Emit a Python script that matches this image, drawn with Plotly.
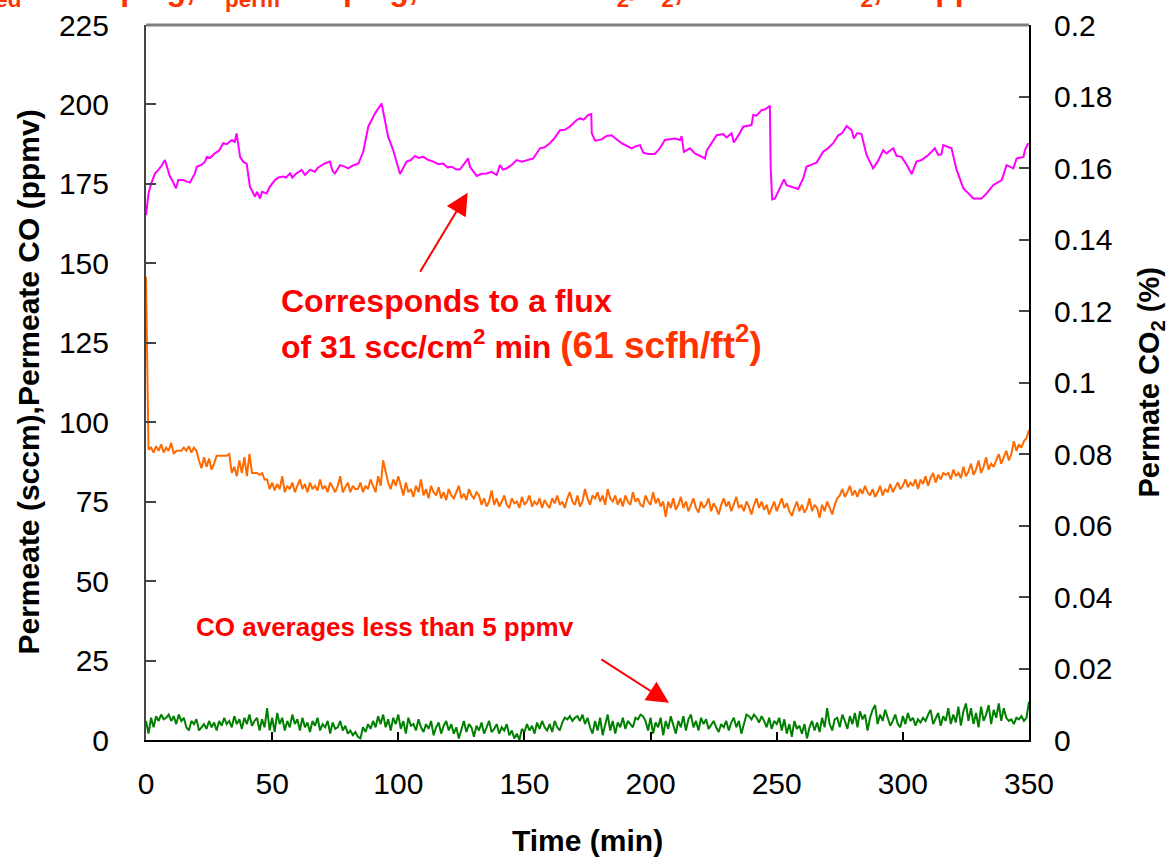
import plotly.graph_objects as go

# ---------------- data ----------------
# Permeate flow (sccm), magenta, left axis
flow_t = [0, 1, 2, 3.6, 4.9, 6, 7.5, 8.5, 9.5, 10.5,
          11.9, 12.8, 14.8, 16, 17.4, 19.4, 20.1, 22, 23.4, 24.1,
          25.5, 27.3, 29, 30.6, 32, 34, 35.2, 35.9, 36.6, 37.3,
          38.5, 39.9, 41.2, 43.2, 44, 45.2, 46, 47.8, 49, 51.1,
          52.5, 54.4, 55.5, 57.1, 58, 59.7, 61.7, 63, 65, 67,
          68, 69.6, 71, 72.9, 74, 74.9, 76.9, 78.5, 80.2, 82,
          84.2, 86.1, 88.1, 90.8, 93.4, 96, 98, 100.7, 103.3, 105,
          106.6, 108, 109.9, 112, 113.9, 116, 117.8, 119.5, 121.2, 123,
          124.5, 127.7, 128.4, 131.1, 133, 135, 137, 139, 140.3, 141.5,
          143, 145, 146.9, 149, 150.9, 152, 153.5, 156.2, 158, 160.1,
          162, 164.1, 166, 168, 170.7, 172, 173.5, 175.3, 176.5, 176.7,
          178, 180.6, 182.6, 184.5, 186.5, 188.5, 190.5, 192.5, 194, 195.8,
          197.1, 199, 201.7, 203.5, 205.7, 207.5, 209.7, 211.7, 212.3, 213.2,
          215.6, 217.6, 219.5, 221.6, 222.2, 224, 226.2, 228.8, 230.1, 232.1,
          233, 235, 236.7, 240, 240.7, 242, 244, 245.5, 247.3, 247.6,
          248.2, 249.3, 251.3, 252.9, 253.9, 256, 258.5, 260.5, 261.8, 263.5,
          265.8, 268.4, 270, 272.4, 274.4, 276, 277.7, 279.7, 280.6, 281.9,
          283.6, 285.6, 288.2, 290, 292.2, 293.5, 296.2, 297.5, 299.5, 301.5,
          303.5, 305.4, 307.4, 310.1, 312.7, 314, 315.3, 316, 319.3, 321.3,
          324, 326, 327.9, 331.2, 333.2, 335.8, 339.2, 341.1, 343.8, 345.1,
          347.8, 348.4, 349.7]
flow_sccm = [165.2, 172, 175, 178.3, 179.4, 180.5, 182.5, 180, 177.3, 176,
             173.6, 176.2, 176.2, 175.8, 175.4, 178.3, 180.4, 181, 182, 183.5,
             183.2, 184.6, 185.5, 187.8, 187.5, 188.8, 188.2, 190.9, 186.7, 183.5,
             182, 181.4, 174.1, 171, 172.5, 170.4, 172.5, 172, 174, 176.2,
             177, 177.3, 177, 178.3, 177, 178.3, 179.4, 177.8, 179.4, 178.8,
             180, 180.9, 181.5, 182, 179, 178.3, 180.9, 180.5, 179.9, 180.8,
             181.4, 185.1, 193, 197.2, 200.3, 189.8, 185.6, 178.1, 182, 182.5,
             183.8, 183.2, 183.5, 182.5, 182, 181.2, 181.4, 180.2, 180.4, 179.5,
             179.6, 183, 180.4, 177.5, 178.2, 178.3, 178.8, 177.8, 180.9, 179.5,
             179.9, 181, 182.5, 182, 182.5, 182.8, 183, 186.2, 186.5, 187.8,
             189.5, 191.9, 192, 193, 195.1, 195.6, 195.2, 196.7, 197, 190.9,
             188.6, 189, 190.1, 190.3, 189, 187.8, 187, 186.2, 186.8, 187.2,
             184.8, 184.4, 184.4, 186, 188.8, 189, 189.3, 188.8, 190, 185.1,
             186.2, 184.6, 183.8, 183, 185.4, 187.5, 190.3, 190.7, 189.6, 190.9,
             188, 190.5, 193, 193.5, 196.7, 196.5, 198.2, 198.5, 199.6, 180.4,
             170.1, 170.4, 173.6, 176.4, 174.6, 174, 173.4, 176.7, 180.4, 181,
             181.7, 185.1, 186, 187.8, 190.3, 191, 193.2, 191.9, 189.3, 191,
             190.7, 184.1, 179.9, 182, 185.6, 184.6, 186.2, 183.8, 183.5, 181,
             178.1, 182, 182.5, 184.1, 186.2, 184.1, 184.3, 187.2, 186.2, 179.4,
             173.6, 172, 170.4, 170.4, 172, 174.6, 176.2, 180.9, 179.9, 183,
             183.5, 185.6, 187.8]

# 1-minute sampling grid for the CO2 and CO analyser traces
time_min = list(range(0, 351))

# Permeate CO2 (%), orange, right axis
co2_pct = [0.1296,
           0.0812, 0.0818, 0.0804, 0.0822, 0.0809, 0.0827, 0.0804, 0.0818, 0.0809, 0.0831,
           0.0800, 0.0809, 0.0809, 0.0809, 0.0818, 0.0809, 0.0822, 0.0804, 0.0818, 0.0809,
           0.0782, 0.0760, 0.0791, 0.0764, 0.0787, 0.0756, 0.0773,
           0.0795, 0.0795, 0.0795, 0.0795, 0.0795,
           0.0800, 0.0747, 0.0764, 0.0738, 0.0782, 0.0747, 0.0791, 0.0738, 0.0800, 0.0747,
           0.0747, 0.0747, 0.0742, 0.0747, 0.0729,
           0.0729, 0.0702, 0.0720, 0.0698, 0.0716, 0.0702, 0.0738, 0.0693, 0.0711, 0.0702,
           0.0720, 0.0693, 0.0711, 0.0729, 0.0702, 0.0716, 0.0693, 0.0720, 0.0702, 0.0711,
           0.0698, 0.0729, 0.0702, 0.0711, 0.0693, 0.0720, 0.0707, 0.0693, 0.0711, 0.0738,
           0.0693, 0.0707, 0.0720, 0.0693, 0.0711, 0.0702,
           0.0702, 0.0720, 0.0693, 0.0711, 0.0702, 0.0729, 0.0711, 0.0693, 0.0738, 0.0711,
           0.0782, 0.0747, 0.0720, 0.0702, 0.0729, 0.0711, 0.0738,
           0.0711, 0.0684, 0.0720, 0.0693, 0.0702, 0.0680, 0.0711, 0.0693, 0.0729, 0.0684,
           0.0702, 0.0676, 0.0711, 0.0693, 0.0684, 0.0707, 0.0676, 0.0693, 0.0671, 0.0702,
           0.0684, 0.0676, 0.0693, 0.0711, 0.0676, 0.0689, 0.0671, 0.0702, 0.0684, 0.0676,
           0.0693,
           0.0684, 0.0658, 0.0676, 0.0653, 0.0667, 0.0698, 0.0658, 0.0676, 0.0653, 0.0667,
           0.0684, 0.0658, 0.0649, 0.0676, 0.0662, 0.0667, 0.0649, 0.0680, 0.0658, 0.0667,
           0.0684, 0.0653, 0.0667, 0.0658, 0.0676, 0.0649, 0.0671, 0.0658, 0.0649, 0.0676,
           0.0662, 0.0684, 0.0658, 0.0667, 0.0649, 0.0676, 0.0693, 0.0667, 0.0658, 0.0684,
           0.0653, 0.0667, 0.0702, 0.0676, 0.0658, 0.0684,
           0.0676, 0.0693, 0.0667, 0.0684, 0.0658, 0.0702, 0.0676, 0.0667, 0.0684, 0.0658,
           0.0676, 0.0653, 0.0684, 0.0667, 0.0658, 0.0693, 0.0667, 0.0676, 0.0658, 0.0653,
           0.0684, 0.0667, 0.0658, 0.0693, 0.0662, 0.0676, 0.0653, 0.0667,
           0.0624,
           0.0667, 0.0649, 0.0676, 0.0644, 0.0658, 0.0680, 0.0649, 0.0667, 0.0640, 0.0658,
           0.0676, 0.0649, 0.0636, 0.0667, 0.0649, 0.0658, 0.0676, 0.0640, 0.0662, 0.0649,
           0.0631, 0.0658, 0.0676, 0.0653, 0.0667, 0.0640, 0.0658, 0.0680, 0.0649, 0.0658,
           0.0640, 0.0667, 0.0653, 0.0631, 0.0658, 0.0676, 0.0649, 0.0667, 0.0644, 0.0658,
           0.0631, 0.0649, 0.0667, 0.0640, 0.0658, 0.0676, 0.0649, 0.0662, 0.0640, 0.0627,
           0.0649, 0.0667, 0.0640, 0.0658, 0.0636, 0.0649, 0.0676, 0.0640, 0.0658, 0.0649,
           0.0622, 0.0658, 0.0640, 0.0667, 0.0649, 0.0631, 0.0658, 0.0676,
           0.0684, 0.0702, 0.0680, 0.0693, 0.0711, 0.0684, 0.0698, 0.0680, 0.0702, 0.0689,
           0.0711, 0.0693, 0.0684, 0.0702, 0.0680, 0.0693, 0.0711, 0.0684, 0.0702, 0.0693,
           0.0716, 0.0693, 0.0707, 0.0720, 0.0702, 0.0711, 0.0729, 0.0707, 0.0720, 0.0711,
           0.0729,
           0.0702, 0.0729, 0.0716, 0.0738, 0.0711, 0.0733, 0.0747, 0.0720, 0.0742, 0.0729,
           0.0747, 0.0742, 0.0747, 0.0729, 0.0756, 0.0738, 0.0747, 0.0733, 0.0764, 0.0738,
           0.0751, 0.0773, 0.0742, 0.0756, 0.0782, 0.0747, 0.0764, 0.0791, 0.0756, 0.0773,
           0.0764, 0.0782, 0.0800, 0.0773, 0.0791, 0.0809, 0.0782, 0.0800, 0.0836, 0.0809,
           0.0827, 0.0818, 0.0836, 0.0844, 0.0867]

# Permeate CO (ppmv), green, left axis
co_ppmv = [6, 2, 7, 4, 7.5, 6, 8, 6.5, 7, 8,
           6, 7.5, 5, 8, 6, 7, 4, 3, 6, 5,
           6.5, 3, 4, 5, 3.5, 6, 4, 5.5, 3, 6,
           4.5, 7, 5, 6, 4, 7.5, 5, 6.5, 3.5, 7,
           5, 8, 4.5, 6, 7, 3, 6.5, 4, 10, 3,
           7, 2.5, 8.5, 5, 7, 3, 6, 4, 8, 5,
           6.5, 3, 7, 4, 5.5, 2.5, 6, 4.5, 7, 3,
           5, 4, 6, 2, 5.5, 3.5, 4, 6, 3, 4.5,
           2, 3, 1.5, 2.5, 1, 0.5, 4, 2.5, 5, 3.5,
           6, 4, 7.5, 5, 8, 4, 6.5, 3, 7, 5,
           8, 3.5, 6, 2, 7, 4.5, 5, 3, 6.5, 4,
           2.5, 5, 3.5, 6, 1.5, 4, 5.5, 2, 4.5, 6,
           3, 5, 2, 4, 0.5, 3.5, 6, 2.5, 5, 4,
           1, 4.5, 3, 5.5, 2, 4, 6, 2.5, 3.5, 5,
           2, 4, 3, 5, 1.5, 3, 0.5, 2, 0, 3.5,
           2.5, 5, 3, 4.5, 2, 5.5, 3.5, 6, 4, 3,
           5, 2.5, 6, 4, 3, 5.5, 7, 6.5, 7.5, 6,
           7, 7.5, 6, 8, 5, 7, 4, 2, 6, 3,
           7, 1.5, 5, 8, 3, 6, 2, 5.5, 4, 7,
           3.5, 6, 5, 4, 7, 6.5, 8, 7.5, 6, 3,
           7, 2, 5.5, 4, 7, 1.5, 6, 3.5, 7.5, 5,
           2, 6, 4, 7.5, 3, 6.5, 8, 4, 6, 3,
           7, 5, 6.5, 3.5, 5, 6, 4, 2.5, 5, 4,
           6, 3, 5.5, 7, 4, 6, 2, 5, 8, 7.5,
           6.5, 8, 7, 5.5, 7.5, 6, 4, 7, 3.5, 6,
           5, 7, 3, 6.5, 2, 5, 1, 6, 3.5, 4.5,
           2, 5, 0.5, 4, 6, 3, 5.5, 2.5, 7, 4,
           10, 5, 3, 6.5, 7, 4, 8, 6, 3.5, 7.5,
           5, 8.5, 4, 9, 6.5, 8, 3, 7, 9.5, 11,
           5, 8, 6, 9.5, 7, 4.5, 6, 8, 5, 4,
           7.5, 5, 8.5, 6, 7, 4.5, 6.5, 5.5, 7, 6,
           8, 9.5, 5, 7, 8.5, 4.5, 7.5, 6, 10, 5,
           8, 5.5, 10.5, 4.5, 9, 11.5, 6, 10, 5, 8.5,
           4, 10.5, 6, 8, 11, 5, 9.5, 7, 11.5, 6,
           10, 7, 6, 6.5, 5, 7, 6.5, 7.5, 6, 7,
           12]

x_ticks = [0, 50, 100, 150, 200, 250, 300, 350]
y_ticks = [0, 25, 50, 75, 100, 125, 150, 175, 200, 225]
y2_ticks = [0, 0.02, 0.04, 0.06, 0.08, 0.1, 0.12, 0.14, 0.16, 0.18, 0.2]
y2_labels = ["0", "0.02", "0.04", "0.06", "0.08", "0.1", "0.12", "0.14", "0.16", "0.18", "0.2"]

# ---------------- figure ----------------
FONT = "Liberation Sans, Arial, sans-serif"

fig = go.Figure()
fig.add_trace(go.Scatter(x=flow_t, y=flow_sccm, mode="lines",
                         line=dict(color="#FF00FF", width=2), name="Permeate (sccm)"))
fig.add_trace(go.Scatter(x=time_min, y=co2_pct, mode="lines", yaxis="y2",
                         line=dict(color="#FF6A00", width=2), name="Permeate CO2 (%)"))
fig.add_trace(go.Scatter(x=time_min, y=co_ppmv, mode="lines",
                         line=dict(color="#008000", width=2), name="Permeate CO (ppmv)"))

tickfont = dict(family=FONT, size=30, color="black")

fig.update_layout(
    width=1168, height=857, autosize=False,
    margin=dict(l=146, r=139, t=25, b=117, autoexpand=False),
    paper_bgcolor="white", plot_bgcolor="white",
    showlegend=False,
    font=dict(family=FONT, color="black"),
    xaxis=dict(range=[0, 350], tickvals=x_ticks, ticks="inside", ticklen=8,
               tickcolor="black", tickwidth=1.5, showline=True, linecolor="black",
               linewidth=2, showgrid=False, zeroline=False, tickfont=tickfont,
               ticklabelstandoff=16, automargin=False),
    yaxis=dict(range=[0, 225], tickvals=y_ticks, ticks="inside", ticklen=10,
               tickcolor="#444444", tickwidth=1.5, showline=True, linecolor="#444444",
               linewidth=2, showgrid=False, zeroline=False, tickfont=tickfont,
               ticklabelstandoff=29, automargin=False),
    yaxis2=dict(range=[0, 0.2], tickvals=y2_ticks, ticktext=y2_labels, overlaying="y",
                side="right", ticks="inside", ticklen=10, tickcolor="#444444",
                tickwidth=1.5, showline=True, linecolor="black", linewidth=2,
                showgrid=False, zeroline=False, tickfont=tickfont,
                ticklabelstandoff=17, automargin=False),
)

# top frame line
fig.add_shape(type="line", xref="paper", yref="paper", x0=0, x1=1, y0=1, y1=1,
              line=dict(color="#808080", width=3))

# axis titles
fig.add_annotation(text="<b>Permeate (sccm),Permeate CO (ppmv)</b>", xref="paper", yref="paper",
                   x=-0.1336, y=0.5, textangle=-90, showarrow=False,
                   xanchor="center", yanchor="middle",
                   font=dict(family=FONT, size=30, color="black"))
fig.add_annotation(text="<b>Permate CO<sub>2</sub> (%)</b>", xref="paper", yref="paper",
                   x=1.1371, y=0.5, textangle=-90, showarrow=False,
                   xanchor="center", yanchor="middle",
                   font=dict(family=FONT, size=29, color="black"))
fig.add_annotation(text="<b>Time (min)</b>", xref="paper", yref="paper",
                   x=0.5, y=-0.14, showarrow=False, xanchor="center", yanchor="middle",
                   font=dict(family=FONT, size=30, color="black"))

# partially visible heading at the top edge (mostly above the page, as in the reference)
fig.add_annotation(text="<b>P<sub>feed</sub> = 100 psig, P<sub>perm</sub> = 0 psig, Feed: 45% H<sub>2</sub>/N<sub>2</sub>, and 1% CO<sub>2</sub>, 50 ppm CO</b>",
                   xref="paper", yref="paper", x=-0.2196, y=1.0158,
                   xanchor="left", yanchor="bottom", showarrow=False,
                   font=dict(family=FONT, size=32, color="#FF3300"))

# in-plot notes
fig.add_annotation(text="<b>Corresponds to a flux</b>", xref="x", yref="y",
                   x=52.7, y=138.2, xanchor="left", yanchor="middle", showarrow=False,
                   font=dict(family=FONT, size=32, color="#FF0000"))
fig.add_annotation(text="<b>of 31 scc/cm<sup>2</sup> min <span style='color:#FF3300;font-size:37px'>(61 scfh/ft<sup>2</sup>)</span></b>",
                   xref="x", yref="y", x=52.7, y=125.2, xanchor="left", yanchor="middle",
                   showarrow=False, font=dict(family=FONT, size=32, color="#FF0000"))
fig.add_annotation(text="<b>CO averages less than 5 ppmv</b>", xref="x", yref="y",
                   x=94.7, y=35.6, xanchor="center", yanchor="middle", showarrow=False,
                   font=dict(family=FONT, size=26, color="#FF0000"))

# arrows
fig.add_annotation(text="", xref="x", yref="y", axref="x", ayref="y",
                   x=127.5, y=172.2, ax=108.3, ay=146.9, showarrow=True,
                   arrowhead=2, arrowsize=2.2, arrowwidth=2, arrowcolor="#FF0000", standoff=0)
fig.add_annotation(text="", xref="x", yref="y", axref="x", ayref="y",
                   x=207.3, y=11.7, ax=179.9, ay=25.7, showarrow=True,
                   arrowhead=2, arrowsize=2.2, arrowwidth=2, arrowcolor="#FF0000", standoff=0)

fig.write_html("out.html")
